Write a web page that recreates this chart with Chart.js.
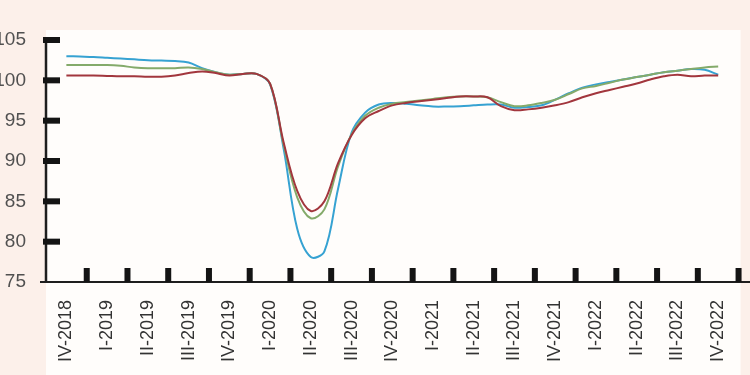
<!DOCTYPE html>
<html>
<head>
<meta charset="utf-8">
<script src="https://cdn.jsdelivr.net/npm/chart.js@4/dist/chart.umd.min.js"></script>
<style>
  html, body { margin: 0; padding: 0; background: #fcf0ea; }
  #wrap { width: 750px; height: 375px; position: relative; }
</style>
</head>
<body>
<div id="wrap"><canvas id="c" width="750" height="375"></canvas></div>
<script>
// Quarter labels (category axis)
const quarters = ["IV-2018","I-2019","II-2019","III-2019","IV-2019","I-2020","II-2020","III-2020","IV-2020",
                  "I-2021","II-2021","III-2021","IV-2021","I-2022","II-2022","III-2022","IV-2022"];
// Y axis ticks
const yMin = 75, yMax = 105, yStep = 5;

// Monthly readings (3 per quarter)
const blueSeries = [103.0,102.95,102.9,102.8,102.7,102.6,102.5,102.45,102.4,102.2,101.5,101.0,100.7,100.8,100.8,99.5,
  91.5,81.6,78.1,78.8,86.5,93.5,96.0,97.0,97.2,97.1,96.9,96.75,96.75,96.8,96.9,97.0,97.0,96.6,96.7,96.9,
  97.6,98.4,99.1,99.5,99.8,100.1,100.4,100.7,101.0,101.2,101.4,101.3,100.7];
const greenSeries = [101.9,101.9,101.9,101.9,101.8,101.6,101.5,101.5,101.5,101.6,101.4,101.0,100.7,100.8,100.8,99.6,
  92.0,85.5,82.9,84.0,89.3,93.3,95.6,96.6,97.1,97.3,97.5,97.7,97.9,98.0,98.0,97.9,97.3,96.8,96.9,97.2,
  97.6,98.3,99.0,99.3,99.7,100.1,100.4,100.7,101.0,101.2,101.4,101.6,101.7];
const redSeries = [100.6,100.6,100.6,100.55,100.5,100.5,100.45,100.45,100.6,100.9,101.1,100.9,100.6,100.8,100.8,99.6,
  92.3,86.3,83.8,85.0,89.7,93.2,95.3,96.2,96.9,97.2,97.4,97.6,97.8,98.0,98.0,97.9,96.8,96.3,96.4,96.6,
  96.9,97.3,97.9,98.4,98.8,99.2,99.6,100.1,100.5,100.7,100.5,100.6,100.6];

// position of each monthly reading on the quarter scale (quarter index + month/3)
const toPoints = arr => arr.map((v, i) => ({ x: i / 3, y: v }));

const decor = {
  id: 'decor',
  beforeDraw(chart) {
    const { ctx, chartArea, width, height } = chart;
    ctx.save();
    ctx.fillStyle = '#fcf0ea';
    ctx.fillRect(0, 0, width, height);
    ctx.fillStyle = '#fffdfb';
    ctx.fillRect(chartArea.left, 30, chartArea.right - chartArea.left + 2, height - 30);
    ctx.restore();
  },
  afterDraw(chart) {
    const { ctx, chartArea, width } = chart;
    const ys = chart.scales.y, xl = chart.scales.xl;
    ctx.save();
    ctx.strokeStyle = '#1e1e1e';
    // y axis line
    ctx.lineWidth = 2.5;
    ctx.beginPath();
    ctx.moveTo(chartArea.left, chartArea.top - 3);
    ctx.lineTo(chartArea.left, chartArea.bottom);
    ctx.stroke();
    // x axis line
    ctx.lineWidth = 2;
    ctx.beginPath();
    ctx.moveTo(chartArea.left - 6, chartArea.bottom);
    ctx.lineTo(width, chartArea.bottom);
    ctx.stroke();
    // thick y tick marks
    ctx.fillStyle = '#141414';
    ys.ticks.forEach(t => {
      if (t.value === yMin) return;
      const py = ys.getPixelForValue(t.value);
      ctx.fillRect(chartArea.left - 3, py - 3, 17, 6);
    });
    // thick x tick marks at quarter boundaries
    for (let i = 0; i < quarters.length; i++) {
      const px = xl.getPixelForValue(i + 0.5);
      ctx.fillRect(px - 3, chartArea.bottom - 14, 6, 14);
    }
    ctx.restore();
  }
};

const lineStyle = { borderWidth: 2, pointRadius: 0, fill: false, tension: 0.35, xAxisID: 'xl', yAxisID: 'y' };

new Chart(document.getElementById('c'), {
  type: 'line',
  data: {
    labels: quarters,
    datasets: [
      Object.assign({ label: 'blue', data: toPoints(blueSeries), borderColor: '#36a2d2', order: 3 }, lineStyle),
      Object.assign({ label: 'green', data: toPoints(greenSeries), borderColor: '#84aa6a', order: 2 }, lineStyle),
      Object.assign({ label: 'red', data: toPoints(redSeries), borderColor: '#a2363d', order: 1 }, lineStyle)
    ]
  },
  options: {
    responsive: false,
    animation: false,
    layout: { padding: { top: 40, right: 7, left: 0, bottom: 0 } },
    plugins: { legend: { display: false }, tooltip: { enabled: false } },
    scales: {
      x: {
        type: 'category',
        labels: quarters,
        offset: true,
        grid: { display: false },
        border: { display: false },
        ticks: {
          minRotation: 90, maxRotation: 90, autoSkip: false, padding: 10,
          color: '#333', font: { family: "'Liberation Sans', Arial, sans-serif", size: 18 }
        },
        afterFit(s) { s.height = 93; }
      },
      xl: {
        type: 'linear', display: false, min: -0.5, max: 16.5
      },
      y: {
        type: 'linear', min: yMin, max: yMax,
        grid: { display: false },
        border: { display: false },
        ticks: {
          stepSize: yStep, padding: 12,
          color: '#505050', font: { family: "'Liberation Sans', Arial, sans-serif", size: 19 }
        },
        afterFit(s) { s.width = 46; }
      }
    }
  },
  plugins: [decor]
});
</script>
</body>
</html>
